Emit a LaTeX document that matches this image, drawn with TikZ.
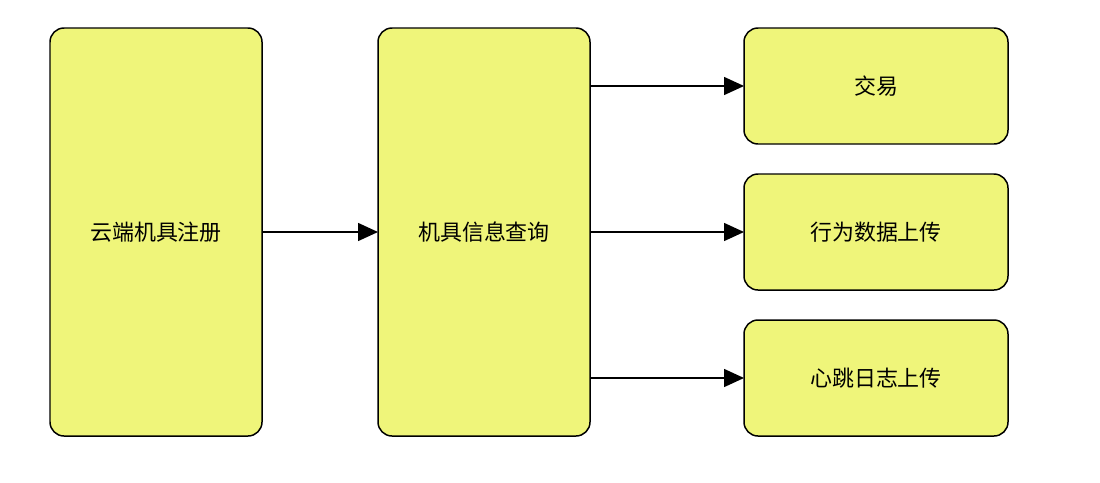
\documentclass[tikz,border=0pt]{standalone}
\usepackage{fontspec}
\newfontfamily\cjk{Noto Sans CJK SC}
\usepackage{tikz}
\usetikzlibrary{positioning,arrows.meta}
\usepackage{xcolor}
\definecolor{lemon}{RGB}{239,245,122}

\tikzset{
  stepbox/.style={rectangle,rounded corners=0.28cm,draw=black,fill=lemon,
    line width=0.85pt,inner sep=0pt,outer sep=0pt,align=center,
    font=\cjk\fontsize{12.5}{15}\selectfont},
  tallbox/.style={stepbox,minimum width=4.24cm,minimum height=8.16cm},
  widebox/.style={stepbox,minimum width=5.28cm,minimum height=2.32cm},
  flow/.style={-{Triangle[length=0.4cm,width=0.36cm]},line width=0.85pt}
}

\begin{document}
\begin{tikzpicture}
\useasboundingbox (0,0) rectangle (22,-9.64);
\node[tallbox] (reg) at (3.12,-4.64) {云端机具注册};
\node[tallbox] (query) at (9.68,-4.64) {机具信息查询};
\node[widebox] (trade) at (17.52,-1.72) {交易};
\node[widebox] (behave) at (17.52,-4.64) {行为数据上传};
\node[widebox] (beat) at (17.52,-7.56) {心跳日志上传};

\draw[flow] (reg) -- (query);
\draw[flow] (query.east |- trade) -- (trade.west);
\draw[flow] (query.east |- behave) -- (behave.west);
\draw[flow] (query.east |- beat) -- (beat.west);
\end{tikzpicture}
\end{document}
